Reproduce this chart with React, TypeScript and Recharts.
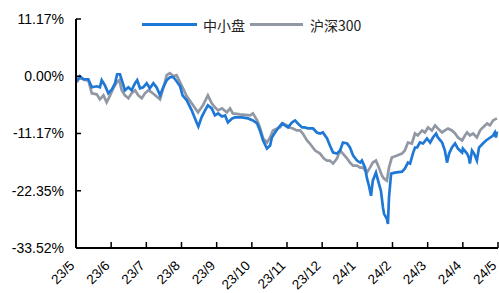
import React from 'react';
import { LineChart, Line, XAxis, YAxis } from 'recharts';

// month offsets since 23/5 and cumulative return (%)
const smallCapMonths = [
  0.02, 0.11, 0.21, 0.35, 0.45, 0.59, 0.68, 0.73, 0.82, 0.92, 1.02, 1.11, 1.17, 1.25, 1.33, 1.39, 1.49, 1.58, 1.68, 1.74,
  1.82, 1.91, 2.01, 2.1, 2.2, 2.29, 2.39, 2.48, 2.58, 2.67, 2.77, 2.84, 2.96, 3.03, 3.15, 3.29, 3.43, 3.48, 3.57, 3.67,
  3.75, 3.86, 3.95, 4.04, 4.15, 4.24, 4.32, 4.44, 4.52, 4.72, 4.89, 5.03, 5.15, 5.23, 5.32, 5.43, 5.52, 5.57, 5.66, 5.74,
  5.86, 5.94, 6.03, 6.14, 6.23, 6.31, 6.43, 6.51, 6.6, 6.74, 6.85, 6.94, 7.02, 7.14, 7.22, 7.31, 7.42, 7.51, 7.59, 7.71,
  7.79, 7.88, 7.99, 8.08, 8.13, 8.22, 8.27, 8.33, 8.39, 8.44, 8.53, 8.59, 8.67, 8.73, 8.76, 8.84, 8.87, 8.9, 8.96, 9.07,
  9.27, 9.35, 9.44, 9.5, 9.58, 9.64, 9.7, 9.78, 9.87, 9.98, 10.07, 10.15, 10.24, 10.29, 10.41, 10.49, 10.55, 10.61, 10.69, 10.78,
  10.86, 10.98, 11.0, 11.12, 11.17, 11.2, 11.26, 11.32, 11.4, 11.46, 11.57, 11.66, 11.74, 11.86, 11.91, 11.94, 11.97,
];
const smallCapValues = [
  -0.98, 0, -0.59, -0.59, -2.16, -1.96, -2.16, -0.78, -1.76, -3.33, -2.55, -1.37, 0.39, 0.39, -1.37, -2.74, -2.16, -2.74, -1.37, -0.78,
  -2.35, -2.16, -1.37, -2.35, -1.37, -2.16, -3.72, -2.16, -0.78, -0.2, -0.2, -0.78, -1.96, -3.72, -4.7, -6.66, -9.01, -9.8, -8.03, -6.66,
  -5.68, -6.27, -7.64, -7.25, -7.84, -7.64, -9.01, -8.23, -8.03, -8.03, -8.23, -8.62, -9.21, -10.58, -12.54, -14.11, -13.52, -11.95, -10.97, -10.19,
  -9.21, -9.6, -9.99, -9.01, -8.62, -9.21, -9.99, -9.99, -10.19, -10.19, -10.97, -11.17, -10.97, -12.15, -13.52, -14.89, -15.09, -14.5, -12.93, -13.13,
  -13.91, -15.48, -16.46, -16.85, -16.46, -17.83, -19.79, -21.36, -23.32, -20.38, -18.81, -20.38, -22.34, -25.67, -26.85, -27.83, -28.81, -23.71, -19.01, -18.81,
  -18.62, -18.03, -16.85, -17.05, -15.09, -13.91, -13.91, -12.93, -13.13, -12.15, -12.93, -11.95, -11.17, -11.95, -12.93, -14.5, -16.85, -15.09, -13.91, -13.13,
  -14.11, -14.89, -14.11, -15.09, -15.87, -17.05, -14.5, -15.09, -16.46, -13.91, -13.13, -12.54, -12.15, -11.56, -10.97, -11.95, -10.78,
];

const hs300Months = [
  0.02, 0.11, 0.26, 0.35, 0.45, 0.59, 0.68, 0.78, 0.87, 0.97, 1.06, 1.16, 1.23, 1.3, 1.39, 1.49, 1.58, 1.68, 1.77, 1.87,
  1.96, 2.06, 2.15, 2.25, 2.39, 2.48, 2.58, 2.67, 2.77, 2.86, 2.96, 3.03, 3.15, 3.29, 3.47, 3.61, 3.75, 3.86, 3.95, 4.04,
  4.15, 4.29, 4.38, 4.46, 4.66, 4.95, 5.03, 5.15, 5.23, 5.32, 5.43, 5.52, 5.6, 5.72, 5.8, 5.89, 6.0, 6.08, 6.17, 6.28,
  6.37, 6.45, 6.57, 6.65, 6.8, 6.94, 7.05, 7.14, 7.22, 7.31, 7.42, 7.51, 7.59, 7.71, 7.79, 7.88, 7.99, 8.08, 8.16, 8.27,
  8.36, 8.44, 8.53, 8.59, 8.7, 8.76, 8.84, 8.9, 8.98, 9.13, 9.27, 9.35, 9.44, 9.55, 9.64, 9.72, 9.84, 9.92, 10.01, 10.12,
  10.21, 10.29, 10.41, 10.49, 10.58, 10.69, 10.78, 10.86, 10.98, 11.06, 11.12, 11.2, 11.29, 11.4, 11.49, 11.57, 11.69, 11.77, 11.86, 11.97,
];
const hs300Values = [
  -1.18, -0.2, -0.78, -0.78, -3.33, -3.53, -4.51, -3.72, -5.1, -3.72, -2.35, -1.18, -0.78, -2.74, -3.72, -4.31, -3.33, -2.74, -3.72, -4.31,
  -3.33, -2.74, -3.14, -3.72, -4.51, -2.35, 0.2, 0.59, 0, 0.2, -1.18, -2.16, -3.92, -5.29, -7.05, -5.68, -3.72, -5.29, -6.07, -6.66,
  -6.27, -7.05, -6.27, -7.25, -7.45, -7.64, -7.25, -8.62, -9.99, -12.15, -12.93, -11.95, -10.58, -10.19, -9.99, -9.21, -9.6, -9.99, -10.19, -10.58,
  -10.58, -11.17, -12.54, -13.13, -14.5, -15.09, -16.07, -16.46, -16.46, -17.05, -16.07, -14.5, -15.09, -16.07, -16.85, -17.44, -17.44, -17.83, -17.83, -18.81,
  -17.83, -16.85, -16.46, -17.44, -19.4, -19.99, -20.38, -17.83, -15.87, -15.48, -15.09, -14.5, -12.93, -13.13, -11.17, -11.56, -10.58, -10.97, -9.99, -10.58,
  -9.6, -10.19, -10.97, -10.58, -10.19, -10.58, -11.17, -11.95, -12.54, -11.56, -10.97, -11.56, -11.17, -11.95, -10.58, -9.99, -9.21, -9.6, -8.62, -8.23,
];

const monthLabels = ['23/5', '23/6', '23/7', '23/8', '23/9', '23/10', '23/11', '23/12', '24/1', '24/2', '24/3', '24/4', '24/5'];
const yTicks = [11.17, 0, -11.17, -22.35, -33.52];

const smallCap = smallCapMonths.map((m, i) => ({ m, v: smallCapValues[i] }));
const hs300 = hs300Months.map((m, i) => ({ m, v: hs300Values[i] }));

const BLUE = '#1f78d6';
const GRAY = '#9198a4';
const FONT = '"Liberation Sans", Arial, sans-serif';

const MonthTick = (props: any) => {
  const { x, y, payload } = props;
  return (
    <g transform={`translate(${x - 4},${y})`}>
      <text x={0} y={0} dy="0.35em" textAnchor="end" transform="rotate(-45)" fontSize={13.5} fontFamily={FONT} fill="#000">
        {monthLabels[payload.value]}
      </text>
    </g>
  );
};

export default function App() {
  return (
    <div style={{ position: 'absolute', left: 0, top: 0, width: 499, height: 293, background: '#fff' }}>
      <LineChart width={499} height={293} data={smallCap} margin={{ top: 19, right: 1, bottom: 0, left: 0 }}>
        <XAxis
          dataKey="m"
          type="number"
          domain={[0, 12]}
          ticks={monthLabels.map((_, i) => i)}
          height={45}
          axisLine={{ stroke: '#000', strokeWidth: 2 }}
          tickLine={{ stroke: '#000', strokeWidth: 1.5 }}
          tickSize={-6}
          tickMargin={21}
          tick={<MonthTick />}
          interval={0}
        />
        <YAxis
          type="number"
          domain={[-33.52, 11.17]}
          ticks={yTicks}
          width={76}
          axisLine={{ stroke: '#000', strokeWidth: 2 }}
          tickLine={{ stroke: '#000', strokeWidth: 1.5 }}
          tickSize={-5}
          tickMargin={17}
          tickFormatter={(v: number) => `${v.toFixed(2)}%`}
          tick={{ fontSize: 14, fontFamily: FONT, fill: '#000' }}
          interval={0}
        />
        <Line data={hs300} dataKey="v" type="linear" stroke={GRAY} strokeWidth={2.7} dot={false} isAnimationActive={false} />
        <Line data={smallCap} dataKey="v" type="linear" stroke={BLUE} strokeWidth={2.7} dot={false} isAnimationActive={false} />
      </LineChart>
      <div style={{ position: 'absolute', left: 142, top: 23, width: 55, height: 3, background: BLUE }} />
      <div style={{ position: 'absolute', left: 203, top: 16, fontSize: 14, lineHeight: '18px', fontFamily: '"Noto Sans CJK SC", sans-serif', color: '#222' }}>
        中小盘
      </div>
      <div style={{ position: 'absolute', left: 250, top: 23, width: 53, height: 3, background: GRAY }} />
      <div style={{ position: 'absolute', left: 310, top: 16, fontSize: 14, lineHeight: '18px', fontFamily: '"Noto Sans CJK SC", sans-serif', color: '#222' }}>
        沪深300
      </div>
    </div>
  );
}
